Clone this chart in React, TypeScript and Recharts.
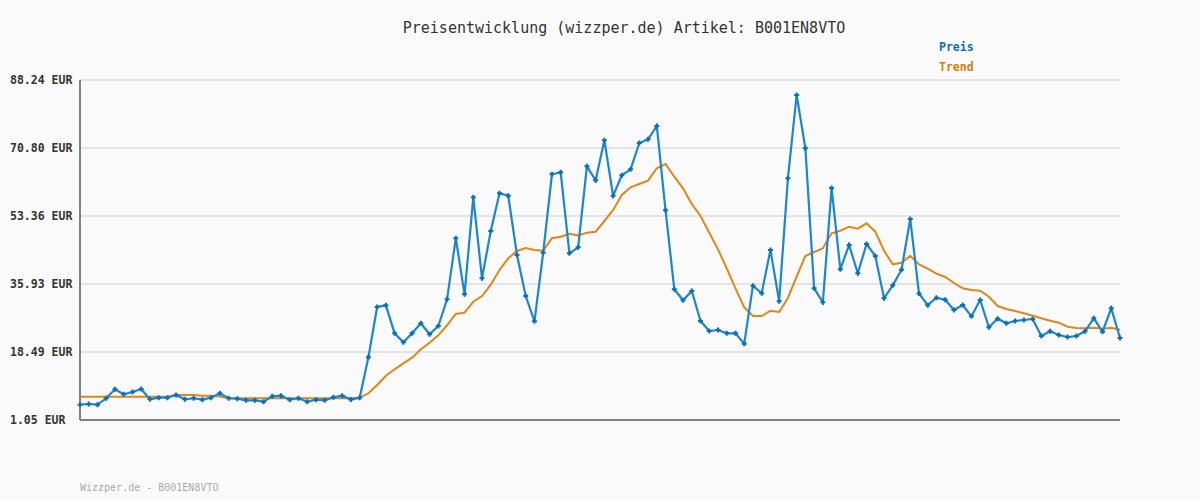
import React from "react";
import { LineChart, Line, XAxis, YAxis, CartesianGrid } from "recharts";

const preis: number[] = [
  4.97, 5.15, 4.97, 6.62, 8.92, 7.64, 8.23, 9.0, 6.36, 6.77,
  6.77, 7.46, 6.36, 6.62, 6.26, 6.77, 7.9, 6.62, 6.51, 6.1,
  6.1, 5.74, 7.13, 7.28, 6.26, 6.62, 5.74, 6.26, 6.1, 6.87,
  7.28, 6.31, 6.77, 17.13, 30.03, 30.46, 23.28, 20.98, 23.28, 25.85,
  23.03, 25.16, 32.0, 47.65, 33.28, 58.16, 37.39, 49.52, 59.19, 58.57,
  43.36, 32.85, 26.36, 43.95, 64.06, 64.57, 43.8, 45.34, 66.11, 62.52,
  72.78, 58.57, 63.8, 65.34, 72.08, 73.03, 76.44, 54.83, 34.57, 31.75,
  34.13, 26.44, 23.87, 24.13, 23.28, 23.28, 20.62, 35.49, 33.54, 44.65,
  31.49, 63.03, 84.39, 70.75, 34.82, 31.23, 60.54, 39.7, 45.93, 38.67,
  46.18, 43.11, 32.26, 35.59, 39.59, 52.59, 33.49, 30.49, 32.41, 31.87,
  29.26, 30.54, 27.64, 31.82, 24.82, 27.03, 25.85, 26.44, 26.69, 26.95,
  22.59, 23.8, 22.85, 22.33, 22.59, 23.8, 27.13, 23.69, 29.69, 22.08,
];

const trend: number[] = [
  7.03, 7.03, 7.03, 7.03, 7.03, 7.03, 7.03, 7.03, 7.03, 7.03,
  7.03, 7.46, 7.46, 7.46, 7.28, 7.28, 7.08, 6.62, 6.62, 6.62,
  6.62, 6.62, 6.62, 6.62, 6.62, 6.62, 6.62, 6.62, 6.62, 6.62,
  6.62, 6.62, 6.77, 7.9, 10.03, 12.41, 14.05, 15.59, 17.03, 19.18,
  20.87, 22.77, 25.34, 28.23, 28.57, 31.39, 32.85, 35.75, 39.52, 42.52,
  44.39, 45.16, 44.65, 44.47, 47.65, 48.06, 48.83, 48.36, 49.08, 49.34,
  52.08, 54.9, 58.75, 60.72, 61.57, 62.42, 65.6, 66.7, 63.44, 60.47,
  56.44, 53.36, 49.08, 44.82, 39.95, 34.82, 29.95, 27.72, 27.72, 29.08,
  28.75, 32.34, 37.8, 43.11, 44.13, 45.08, 48.93, 49.59, 50.62, 50.11,
  51.49, 49.34, 44.47, 40.98, 41.39, 43.16, 40.93, 39.88, 38.59, 37.72,
  36.18, 34.82, 34.39, 34.21, 32.67, 30.28, 29.51, 29.0, 28.41, 27.8,
  27.13, 26.51, 26.0, 24.98, 24.64, 24.57, 24.72, 24.46, 24.72, 24.21,
];

const yTicks: number[] = [1.05, 18.49, 35.93, 53.36, 70.8, 88.24];

const data = preis.map((p, i) => ({ i, preis: p, trend: trend[i] }));

const BLUE = "#1e86cc";
const BLUE_DARK = "#0a6fb8";
const ORANGE = "#e0861a";
const MONO = "'DejaVu Sans Mono', 'Liberation Mono', monospace";

const PlusDot = (props: any) => {
  const { cx, cy } = props;
  if (cx == null || cy == null) return null;
  return (
    <path
      d={`M${cx - 2.5},${cy} L${cx + 2.5},${cy} M${cx},${cy - 2.5} L${cx},${cy + 2.5}`}
      stroke={BLUE_DARK}
      strokeWidth={2}
    />
  );
};

const YTick = (props: any) => {
  const { y, payload } = props;
  return (
    <text
      x={10}
      y={y}
      dominantBaseline="central"
      fontFamily={MONO}
      fontWeight="bold"
      fontSize={11.5}
      fill="#333"
    >
      {payload.value.toFixed(2)} EUR
    </text>
  );
};

export default function App() {
  return (
    <div
      style={{
        position: "absolute",
        left: 0,
        top: 0,
        width: 1200,
        height: 500,
        background: "#fafafa",
      }}
    >
      <LineChart
        width={1200}
        height={500}
        data={data}
        margin={{ top: 80, right: 80, bottom: 79, left: 0 }}
      >
        <text
          x={624}
          y={28}
          textAnchor="middle"
          dominantBaseline="central"
          fontFamily={MONO}
          fontSize={15}
          fill="#333"
        >
          Preisentwicklung (wizzper.de) Artikel: B001EN8VTO
        </text>
        <text
          x={939}
          y={47}
          dominantBaseline="central"
          fontFamily={MONO}
          fontWeight="bold"
          fontSize={11.5}
          fill={BLUE_DARK}
        >
          Preis
        </text>
        <text
          x={939}
          y={67}
          dominantBaseline="central"
          fontFamily={MONO}
          fontWeight="bold"
          fontSize={11.5}
          fill="#d97a0c"
        >
          Trend
        </text>
        <text
          x={80}
          y={487}
          dominantBaseline="central"
          fontFamily={MONO}
          fontSize={10}
          fill="#aaa"
        >
          Wizzper.de - B001EN8VTO
        </text>
        <CartesianGrid
          vertical={false}
          stroke="#e4e4e4"
          strokeWidth={2}
        />
        <XAxis
          dataKey="i"
          type="number"
          domain={[0, 119]}
          tick={false}
          tickLine={false}
          height={1}
          axisLine={{ stroke: "#808080", strokeWidth: 2 }}
        />
        <YAxis
          type="number"
          domain={[1.05, 88.24]}
          ticks={yTicks}
          width={80}
          tick={<YTick />}
          tickLine={false}
          interval={0}
          axisLine={{ stroke: "#808080", strokeWidth: 2 }}
        />
        <Line
          type="linear"
          dataKey="trend"
          stroke={ORANGE}
          strokeWidth={2}
          dot={false}
          isAnimationActive={false}
        />
        <Line
          type="linear"
          dataKey="preis"
          stroke={BLUE}
          strokeWidth={2.2}
          dot={<PlusDot />}
          activeDot={false}
          isAnimationActive={false}
        />
      </LineChart>
    </div>
  );
}
